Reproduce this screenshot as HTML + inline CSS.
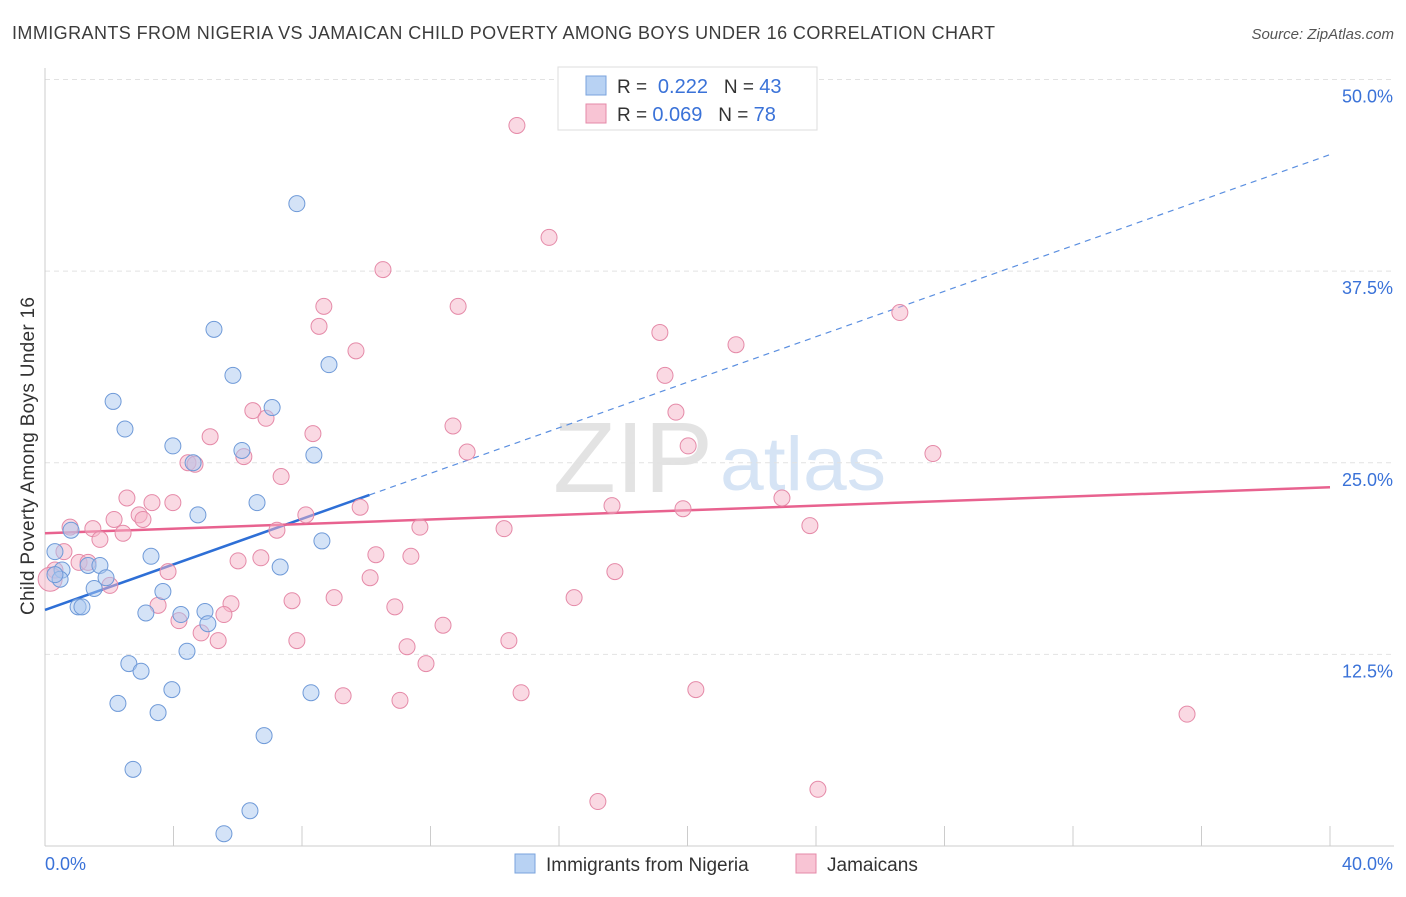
<!DOCTYPE html>
<html><head><meta charset="utf-8"><style>
body{margin:0;background:#fff;font-family:"Liberation Sans",sans-serif;}
svg text{font-family:"Liberation Sans",sans-serif;}
</style></head><body>
<svg id="chart" width="1406" height="892">
<text x="12" y="39" font-size="18" fill="#3c3c3c" textLength="983" lengthAdjust="spacing">IMMIGRANTS FROM NIGERIA VS JAMAICAN CHILD POVERTY AMONG BOYS UNDER 16 CORRELATION CHART</text>
<text x="1394" y="39" font-size="15" fill="#555" font-style="italic" text-anchor="end">Source: ZipAtlas.com</text>
<text x="553" y="492" font-size="100" fill="#e3e3e3" font-family="Liberation Serif" textLength="160" lengthAdjust="spacingAndGlyphs">ZIP</text>
<text x="720" y="490" font-size="76" fill="#d6e4f5" textLength="166" lengthAdjust="spacingAndGlyphs">atlas</text>
<g id="grid"></g><g id="axes"></g><g id="lines"></g><g id="pts"></g>
<text transform="translate(34,456) rotate(-90)" font-size="19" fill="#333" text-anchor="middle" textLength="318" lengthAdjust="spacing">Child Poverty Among Boys Under 16</text>
<g>
<rect x="558" y="67" width="259" height="63" fill="#fff" stroke="#ddd"/>
<rect x="586" y="76" width="20" height="19" fill="#b8d2f3" stroke="#7aa3dd"/>
<rect x="586" y="104" width="20" height="19" fill="#f8c4d4" stroke="#e58aa8"/>
<text x="617" y="93" font-size="19" fill="#333">R = <tspan fill="#3a72d8" font-size="20">&#160;0.222</tspan>&#160;&#160;&#160;N = <tspan fill="#3a72d8" font-size="20">43</tspan></text>
<text x="617" y="121" font-size="19" fill="#333">R = <tspan fill="#3a72d8" font-size="20">0.069</tspan>&#160;&#160;&#160;N = <tspan fill="#3a72d8" font-size="20">78</tspan></text>
</g>
<g>
<rect x="515" y="854" width="20" height="19" fill="#b8d2f3" stroke="#7aa3dd"/>
<text x="546" y="871" font-size="19" fill="#333">Immigrants from Nigeria</text>
<rect x="796" y="854" width="20" height="19" fill="#f8c4d4" stroke="#e58aa8"/>
<text x="827" y="871" font-size="19" fill="#333">Jamaicans</text>
</g>
</svg>
<script>
const blueX=[7.84,5.26,5.85,8.84,2.12,7.07,2.49,3.98,6.13,8.37,4.61,6.60,4.76,0.81,8.62,0.31,3.30,1.34,1.71,0.53,1.90,7.32,0.47,1.53,3.67,1.03,1.15,3.14,4.23,4.98,5.07,4.42,2.61,2.99,3.95,8.28,2.27,3.52,6.82,2.74,6.38,5.57,0.31];
const blueY=[41.9,33.7,30.7,31.4,29.0,28.6,27.2,26.1,25.8,25.5,25.0,22.4,21.6,20.6,19.9,19.2,18.9,18.3,18.3,18.0,17.5,18.2,17.4,16.8,16.6,15.6,15.6,15.2,15.1,15.3,14.5,12.7,11.9,11.4,10.2,10.0,9.3,8.7,7.2,5.0,2.3,0.8,17.7];
const pinkX=[14.69,15.69,10.52,8.68,12.86,8.53,19.14,26.61,21.51,9.68,19.30,6.47,19.64,6.88,12.70,5.14,8.34,20.02,13.14,6.19,27.64,4.45,4.67,7.35,2.55,3.33,3.98,22.94,9.81,17.65,19.86,2.93,2.15,8.12,3.05,0.78,1.49,23.81,11.67,14.29,7.22,2.43,1.71,0.59,10.30,11.39,1.06,1.34,6.01,6.72,17.74,3.83,10.12,2.02,7.69,9.00,16.47,5.79,3.52,10.89,5.57,4.17,12.39,4.86,5.39,7.84,14.44,11.27,11.86,20.26,14.82,9.28,11.05,35.55,17.21,24.06,0.31,0.16];
const pinkY=[47.0,39.7,37.6,35.2,35.2,33.9,33.5,34.8,32.7,32.3,30.7,28.4,28.3,27.9,27.4,26.7,26.9,26.1,25.7,25.4,25.6,25.0,24.9,24.1,22.7,22.4,22.4,22.7,22.1,22.2,22.0,21.6,21.3,21.6,21.3,20.8,20.7,20.9,20.8,20.7,20.6,20.4,20.0,19.2,19.0,18.9,18.5,18.5,18.6,18.8,17.9,17.9,17.5,17.0,16.0,16.2,16.2,15.8,15.7,15.6,15.1,14.7,14.4,13.9,13.4,13.4,13.4,13.0,11.9,10.2,10.0,9.8,9.5,8.6,2.9,3.7,18.0,17.4];
const yTicks=[12.5,25.0,37.5,50.0];
const xTickLabels=["0.0%","40.0%"];
const blueFit=[15.4,45.1]; // at x=0 and x=40
const pinkFit=[20.4,23.4];
const NS="http://www.w3.org/2000/svg";
const sx=v=>45+v*32.125, sy=v=>846-v*15.33;
function mk(t,a,p){const e=document.createElementNS(NS,t);for(const k in a)e.setAttribute(k,a[k]);p.appendChild(e);return e;}
const grid=document.getElementById('grid'),axes=document.getElementById('axes'),lines=document.getElementById('lines'),pts=document.getElementById('pts');
yTicks.forEach(v=>{
 const l=mk('line',{x1:45,x2:1394,y1:sy(v),y2:sy(v),stroke:'#e2e2e2','stroke-dasharray':'5,4'},grid);
 
 
 const t=mk('text',{x:1393,y:sy(v)+23,'font-size':18,fill:'#3a72d8','text-anchor':'end'},axes);
 t.textContent=v.toFixed(1)+'%';
 
 
});
const ax=mk('line',{x1:45,x2:1394,y1:846,y2:846,stroke:'#ccc'},axes);


const ay=mk('line',{x1:45,x2:45,y1:68,y2:846,stroke:'#ccc'},axes);


for(let i=0;i<=10;i++){
 const tk=mk('line',{x1:sx(i*4),x2:sx(i*4),y1:826,y2:846,stroke:'#ccc'},axes);
 
 
}
[[0,'start'],[40,'end']].forEach((d,i)=>{
 const t=mk('text',{x:i?1393:45,y:870,'font-size':18,fill:'#3a72d8','text-anchor':d[1]},axes);
 t.textContent=xTickLabels[i];
 
 
});
function draw(xs,ys,fill,stroke,name){
 xs.forEach((x,i)=>{
  const c=mk('circle',{cx:sx(x),cy:sy(ys[i]),r:(name==='pink-point'&&i===xs.length-1)?12:8,fill:fill,'fill-opacity':0.5,stroke:stroke,'stroke-width':1},pts);
  
  
 });
}
draw(pinkX,pinkY,'#f5b3c8','#e58aa8','pink-point');
draw(blueX,blueY,'#a9c7f0','#6f9ad8','blue-point');
const yb=x=>blueFit[0]+(blueFit[1]-blueFit[0])*x/40;
const b1=mk('line',{x1:sx(0),y1:sy(yb(0)),x2:sx(10.1),y2:sy(yb(10.1)),stroke:'#2e6fd6','stroke-width':2.5},lines);


const b2=mk('line',{x1:sx(10.1),y1:sy(yb(10.1)),x2:sx(40),y2:sy(yb(40)),stroke:'#5b8fe0','stroke-width':1.2,'stroke-dasharray':'6,5'},lines);


const p1=mk('line',{x1:sx(0),y1:sy(pinkFit[0]),x2:sx(40),y2:sy(pinkFit[1]),stroke:'#e8628f','stroke-width':2.5},lines);


</script>
</body></html>
